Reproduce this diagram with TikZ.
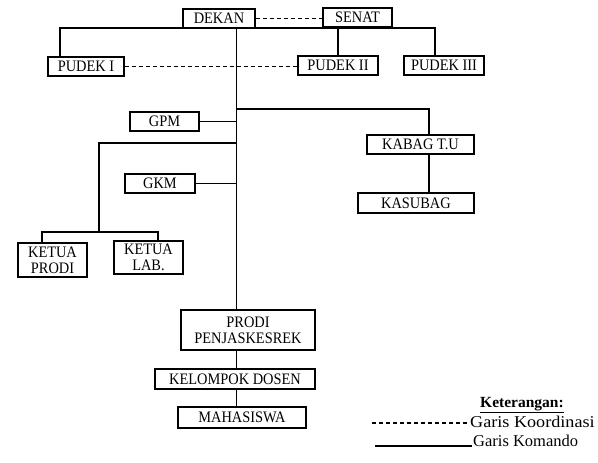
\documentclass[tikz,border=0pt]{standalone}
\usepackage{fontspec}
\setmainfont{Liberation Serif}
\newfontfamily\boxfont[FakeStretch=0.9]{Liberation Serif}
\newfontfamily\widefont[FakeStretch=1.1]{Liberation Serif}
\begin{document}
\begin{tikzpicture}[x=1pt,y=-1pt,
  box/.style={draw, line width=1.3pt, inner sep=0pt, align=center,
    font=\boxfont\fontsize{16}{15.7}\selectfont},
  ln/.style={line width=1.3pt},
  coordline/.style={line width=1.2pt, dash pattern=on 4pt off 3pt},
  legtext/.style={inner sep=1.5pt, font=\fontsize{16.5}{18}\selectfont}]
\useasboundingbox (0,0) rectangle (598,463);
% boxes
\node[box, minimum width=72pt, minimum height=19pt] (dekan) at (219,18.5) {DEKAN};
\node[box, minimum width=69pt, minimum height=19pt] (senat) at (357.5,17.5) {SENAT};
\node[box, minimum width=76pt, minimum height=19pt] (pudek1) at (86,66.5) {PUDEK I};
\node[box, minimum width=80pt, minimum height=19pt] (pudek2) at (338,65.5) {PUDEK II};
\node[box, minimum width=80pt, minimum height=19pt] (pudek3) at (444,65.5) {PUDEK III};
\node[box, minimum width=69pt, minimum height=19pt] (gpm) at (164.5,121.5) {GPM};
\node[box, minimum width=70pt, minimum height=19pt] (gkm) at (160,183.5) {GKM};
\node[box, minimum width=107pt, minimum height=19pt] (kabag) at (420.5,144.5) {KABAG T.U};
\node[box, minimum width=116pt, minimum height=20pt] (kasubag) at (416,203) {KASUBAG};
\node[box, minimum width=69pt, minimum height=34pt] (kprodi) at (52.5,260) {KETUA\\PRODI};
\node[box, minimum width=69pt, minimum height=33pt] (klab) at (148.5,257.5) {KETUA\\LAB.};
\node[box, minimum width=134pt, minimum height=40pt] (prodi) at (248,330) {PRODI\\PENJASKESREK};
\node[box, minimum width=160pt, minimum height=20pt] (kel) at (235,379) {KELOMPOK DOSEN};
\node[box, minimum width=128pt, minimum height=21pt] (mhs) at (242,417.5) {MAHASISWA};
% coordination lines
\draw[coordline] (dekan.east) -- (dekan.east -| senat.west);
\draw[coordline] (pudek1.east) -- (pudek1.east -| pudek2.west);
% command lines
\coordinate (t1) at (60,28);
\coordinate (t2) at (435,28);
\coordinate (tr) at (236.5,28);
\draw[ln] (pudek1.north -| t1) -- (t1) -- (t2) -- (pudek3.north -| t2);
\draw[ln] (pudek2.north) -- (pudek2.north |- senat.south);
\draw[ln] (tr) -- (tr |- prodi.north);
\draw[ln] (tr |- prodi.south) -- (tr |- kel.north);
\draw[ln] (tr |- kel.south) -- (tr |- mhs.north);
\draw[ln] (gpm.east) -- (gpm.east -| tr);
\draw[ln] (gkm.east) -- (gkm.east -| tr);
\coordinate (kb) at (429,109);
\draw[ln] (kb -| tr) -- (kb) -- (kb |- kabag.north);
\draw[ln] (kb |- kabag.south) -- (kb |- kasubag.north);
\coordinate (lb) at (99,143);
\coordinate (lc) at (99,232);
\coordinate (k1) at (42,232);
\coordinate (k2) at (158,232);
\draw[ln] (lb -| tr) -- (lb) -- (lc);
\draw[ln] (k1 |- kprodi.north) -- (k1) -- (k2) -- (k2 |- klab.north);
% legend
\node[inner sep=0pt, font=\fontsize{15.5}{17}\selectfont\bfseries] (ket) at (522,405) {\underline{Keterangan:}};
\node[legtext, anchor=base west, font=\widefont\fontsize{16.5}{18}\selectfont] (gk) at (468.5,427) {Garis Koordinasi};
\node[legtext, anchor=base west] (gm) at (471.5,446) {Garis Komando};
\coordinate (l1) at (372,423);
\coordinate (l2) at (375,446);
\draw[coordline] (l1) -- (l1 -| gk.west);
\draw[ln] (l2) -- (l2 -| gm.west);
\end{tikzpicture}
\end{document}
